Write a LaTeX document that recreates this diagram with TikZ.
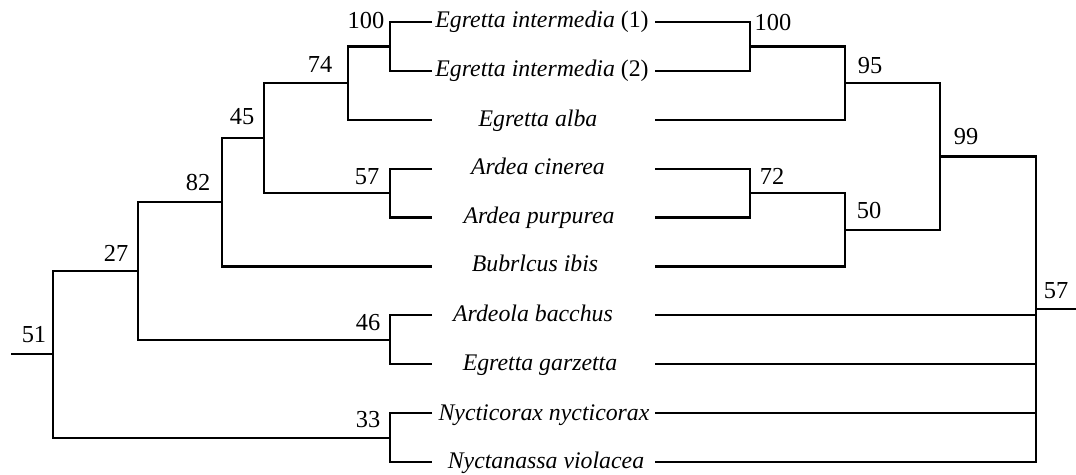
\documentclass[tikz,border=0pt]{standalone}
\usepackage{fontspec}
\setmainfont{Liberation Serif}
\tikzset{
    branch/.style={line width=1.1pt},
    taxon/.style={anchor=base, inner sep=0pt, font=\fontsize{11.9}{14}\selectfont\itshape},
    support/.style={inner sep=0pt, font=\fontsize{12.2}{14}\selectfont},
}

\begin{document}
\begin{tikzpicture}[x=0.5pt, y=-0.5pt]
    \useasboundingbox (0,0) rectangle (1076,475);

    % Taxa between the two trees
    \node[taxon] (t1) at (542,28) {Egretta intermedia {\upshape(1)}};
    \node[taxon] (t2) at (542,76.9) {Egretta intermedia {\upshape(2)}};
    \node[taxon] (t3) at (538,126.8) {Egretta alba};
    \node[taxon] (t4) at (538,174.7) {Ardea cinerea};
    \node[taxon] (t5) at (539,223.6) {Ardea purpurea};
    \node[taxon] (t6) at (535,271.5) {Bubrlcus ibis};
    \node[taxon] (t7) at (533,321.4) {Ardeola bacchus};
    \node[taxon] (t8) at (540,370.3) {Egretta garzetta};
    \node[taxon] (t9) at (544,420.2) {Nycticorax nycticorax};
    \node[taxon] (t10) at (546,468.1) {Nyctanassa violacea};

    % Leaf ends, left and right
    \foreach \i/\y in {1/22,2/70.9,3/119.8,4/168.7,5/217.6,6/266.5,7/315.4,8/364.3,9/413.2,10/462.1} {
        \coordinate (l\i) at (432,\y);
        \coordinate (r\i) at (655,\y);
    }

    % LEFT tree
    \coordinate (n100L) at (390,46.45);
    \coordinate (n74L) at (348,83.1);
    \coordinate (n57L) at (390,193.15);
    \coordinate (n45L) at (264,138.1);
    \coordinate (n82L) at (222,202.3);
    \coordinate (n46L) at (390,339.85);
    \coordinate (n27L) at (138,271.1);
    \coordinate (n33L) at (390,437.65);
    \coordinate (n51L) at (53,354.4);
    \coordinate (rootL) at (11,354.4);

    \draw[branch] (l1) -| (n100L) |- (l2);
    \draw[branch] (n100L) -| (n74L) |- (l3);
    \draw[branch] (l4) -| (n57L) |- (l5);
    \draw[branch] (n74L) -| (n45L) |- (n57L);
    \draw[branch] (n45L) -| (n82L) |- (l6);
    \draw[branch] (l7) -| (n46L) |- (l8);
    \draw[branch] (n82L) -| (n27L) |- (n46L);
    \draw[branch] (l9) -| (n33L) |- (l10);
    \draw[branch] (n27L) -| (n51L) |- (n33L);
    \draw[branch] (rootL) -- (n51L);

    \node[support] (s100L) at (366,21) {100};
    \node[support] (s74L) at (320,64) {74};
    \node[support] (s45L) at (242,117) {45};
    \node[support] (s82L) at (198,183) {82};
    \node[support] (s57L) at (367,177) {57};
    \node[support] (s27L) at (116,253) {27};
    \node[support] (s46L) at (368,323) {46};
    \node[support] (s33L) at (368,420) {33};
    \node[support] (s51L) at (34,335) {51};

    % RIGHT tree
    \coordinate (n100R) at (750,46.45);
    \coordinate (n95R) at (845,83.1);
    \coordinate (n72R) at (750,193.15);
    \coordinate (n50R) at (845,229.8);
    \coordinate (n99R) at (940,156.5);
    \coordinate (n57R) at (1036,309.3);
    \coordinate (rootR) at (1076,309.3);

    \draw[branch] (r1) -| (n100R) |- (r2);
    \draw[branch] (n100R) -| (n95R) |- (r3);
    \draw[branch] (r4) -| (n72R) |- (r5);
    \draw[branch] (n72R) -| (n50R) |- (r6);
    \draw[branch] (n95R) -| (n99R) |- (n50R);
    \draw[branch] (n99R) -| (n57R) |- (r10);
    \draw[branch] (r7) -- (r7 -| n57R);
    \draw[branch] (r8) -- (r8 -| n57R);
    \draw[branch] (r9) -- (r9 -| n57R);
    \draw[branch] (n57R) -- (rootR);

    \node[support] (s100R) at (773,23) {100};
    \node[support] (s95R) at (870,66) {95};
    \node[support] (s72R) at (772,176) {72};
    \node[support] (s50R) at (869,211) {50};
    \node[support] (s99R) at (966,137) {99};
    \node[support] (s57R) at (1056,291) {57};
\end{tikzpicture}
\end{document}
